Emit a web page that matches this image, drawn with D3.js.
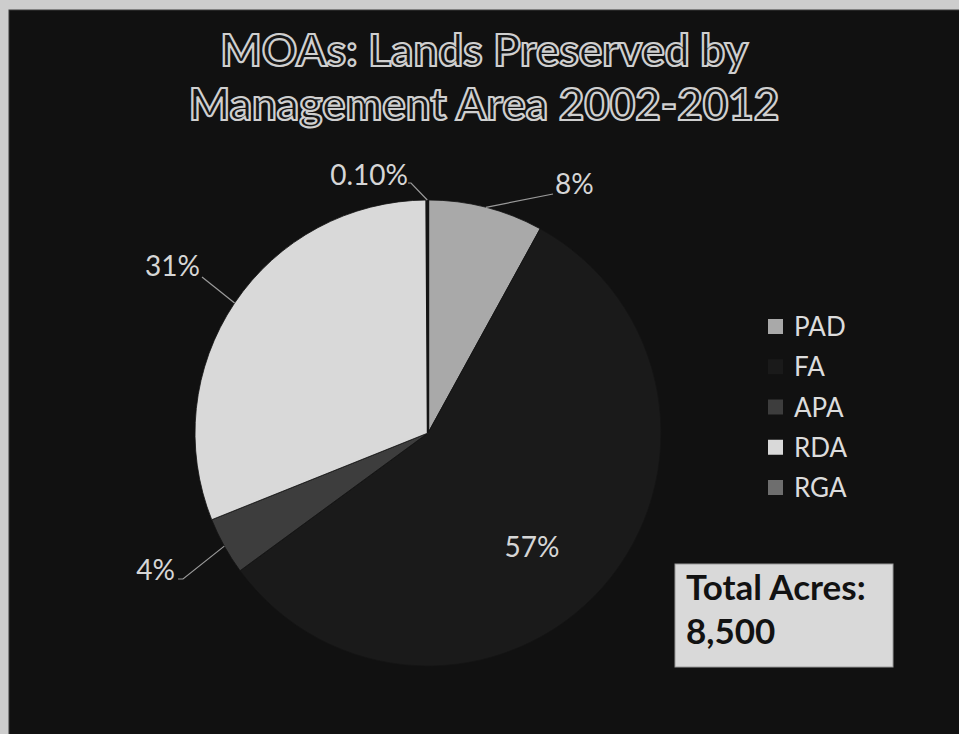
<!DOCTYPE html>
<html>
<head>
<meta charset="utf-8">
<script src="https://cdn.jsdelivr.net/npm/d3@7"></script>
<style>
  html, body { margin: 0; padding: 0; background: #cfcfcf; }
  svg { display: block; }
</style>
</head>
<body>
<svg id="chart" width="959" height="734"></svg>
<script>
// Management areas and their share of preserved acreage (percent)
const categories = ["PAD", "FA", "APA", "RDA", "RGA"];
const shares = [8, 57, 4, 31, 0.1];
const shareLabels = ["8%", "57%", "4%", "31%", "0.10%"];
const titleLines = ["MOAs: Lands Preserved by", "Management Area 2002-2012"];
const totalLines = ["Total Acres:", "8,500"];

// Greyscale fill per management area
const fills = ["#a9a9a9", "#1a1a1a", "#3d3d3d", "#d9d9d9", "#6e6e6e"];

const W = 959, H = 734;
const svg = d3.select("#chart");

// page edge + dark chart panel
svg.append("rect").attr("width", W).attr("height", H).attr("fill", "#cdcdcd");
svg.append("rect").attr("x", 9).attr("y", 10).attr("width", W).attr("height", H)
  .attr("fill", "#111111").attr("stroke", "#3a3a3a").attr("stroke-width", 1);

// outlined title
const title = svg.append("text")
  .attr("x", 484).attr("y", 66)
  .attr("text-anchor", "middle")
  .attr("font-family", "Lato, 'Open Sans', sans-serif")
  .attr("font-weight", 700)
  .attr("font-size", 44)
  .attr("fill", "#161616")
  .attr("stroke", "#cfcfcf")
  .attr("stroke-width", 2.2)
  .attr("paint-order", "fill");
titleLines.forEach((t, i) => {
  title.append("tspan").attr("x", 484).attr("dy", i === 0 ? 0 : 54).text(t);
});

// pie
const cx = 428, cy = 433, R = 233;
const color = d3.scaleOrdinal().domain(categories).range(fills);
const pie = d3.pie().sort(null).value(d => d.value);
const arcs = pie(categories.map((c, i) => ({ key: c, value: shares[i], label: shareLabels[i] })));
const arc = d3.arc().innerRadius(0).outerRadius(R);

const g = svg.append("g").attr("transform", `translate(${cx},${cy})`);
g.selectAll("path.slice")
  .data(arcs)
  .join("path")
  .attr("class", "slice")
  .attr("d", arc)
  .attr("fill", d => color(d.data.key))
  .attr("stroke", "#141414")
  .attr("stroke-width", d => d.data.key === "RGA" ? 2.4 : 0.8);

// label placement: where each percent label sits relative to the pie centre
// (leader end dx/dy, text position tx/ty, anchor, optional elbow)
const placement = {
  PAD: { dx: 125, dy: -239, anchor: "start", tx: 127, ty: -239, elbow: null, inside: false },
  FA:  { dx: 104, dy: 124, anchor: "middle", inside: true },
  APA: { dx: -245, dy: 146, anchor: "end", tx: -253, ty: 147, elbow: [-250, 146], inside: false },
  RDA: { dx: -226, dy: -156, anchor: "end", tx: -228, ty: -157, elbow: null, inside: false },
  RGA: { dx: -17, dy: -250, anchor: "end", tx: -20, ty: -248, elbow: [-20, -250], inside: false }
};

const labelFont = "Lato, 'Open Sans', sans-serif";

arcs.forEach(a => {
  const p = placement[a.data.key];
  const mid = (a.startAngle + a.endAngle) / 2;
  if (!p.inside) {
    const edge = [Math.sin(mid) * R, -Math.cos(mid) * R];
    const pts = [edge, [p.dx, p.dy]];
    if (p.elbow) pts.push(p.elbow);
    g.append("path")
      .attr("d", d3.line()(pts))
      .attr("fill", "none")
      .attr("stroke", "#9a9a9a")
      .attr("stroke-width", 1.2);
  }
  g.append("text")
    .attr("x", p.inside ? p.dx : p.tx).attr("y", p.inside ? p.dy : p.ty)
    .attr("text-anchor", p.anchor)
    .attr("font-family", labelFont)
    .attr("font-size", 28)
    .attr("fill", "#d6d6d6")
    .text(a.data.label);
});

// legend
const legend = svg.append("g").attr("transform", "translate(768,326)");
const rowY = d3.scalePoint().domain(categories).range([0, 161]);
const rows = legend.selectAll("g.row").data(categories).join("g")
  .attr("class", "row")
  .attr("transform", d => `translate(0,${rowY(d)})`);
rows.append("rect")
  .attr("x", 0).attr("y", -7).attr("width", 15).attr("height", 15)
  .attr("fill", d => color(d));
rows.append("text")
  .attr("x", 26).attr("y", 10)
  .attr("font-family", labelFont)
  .attr("font-size", 26)
  .attr("fill", "#dcdcdc")
  .text(d => d);

// total acreage callout
const box = svg.append("g").attr("transform", "translate(675,564)");
box.append("rect").attr("width", 218).attr("height", 103)
  .attr("fill", "#d9d9d9").attr("stroke", "#9a9a9a").attr("stroke-width", 1);
totalLines.forEach((t, i) => {
  box.append("text")
    .attr("x", 11).attr("y", 36 + i * 44)
    .attr("font-family", labelFont)
    .attr("font-weight", 700)
    .attr("font-size", 35)
    .attr("fill", "#121212")
    .text(t);
});
</script>
</body>
</html>
